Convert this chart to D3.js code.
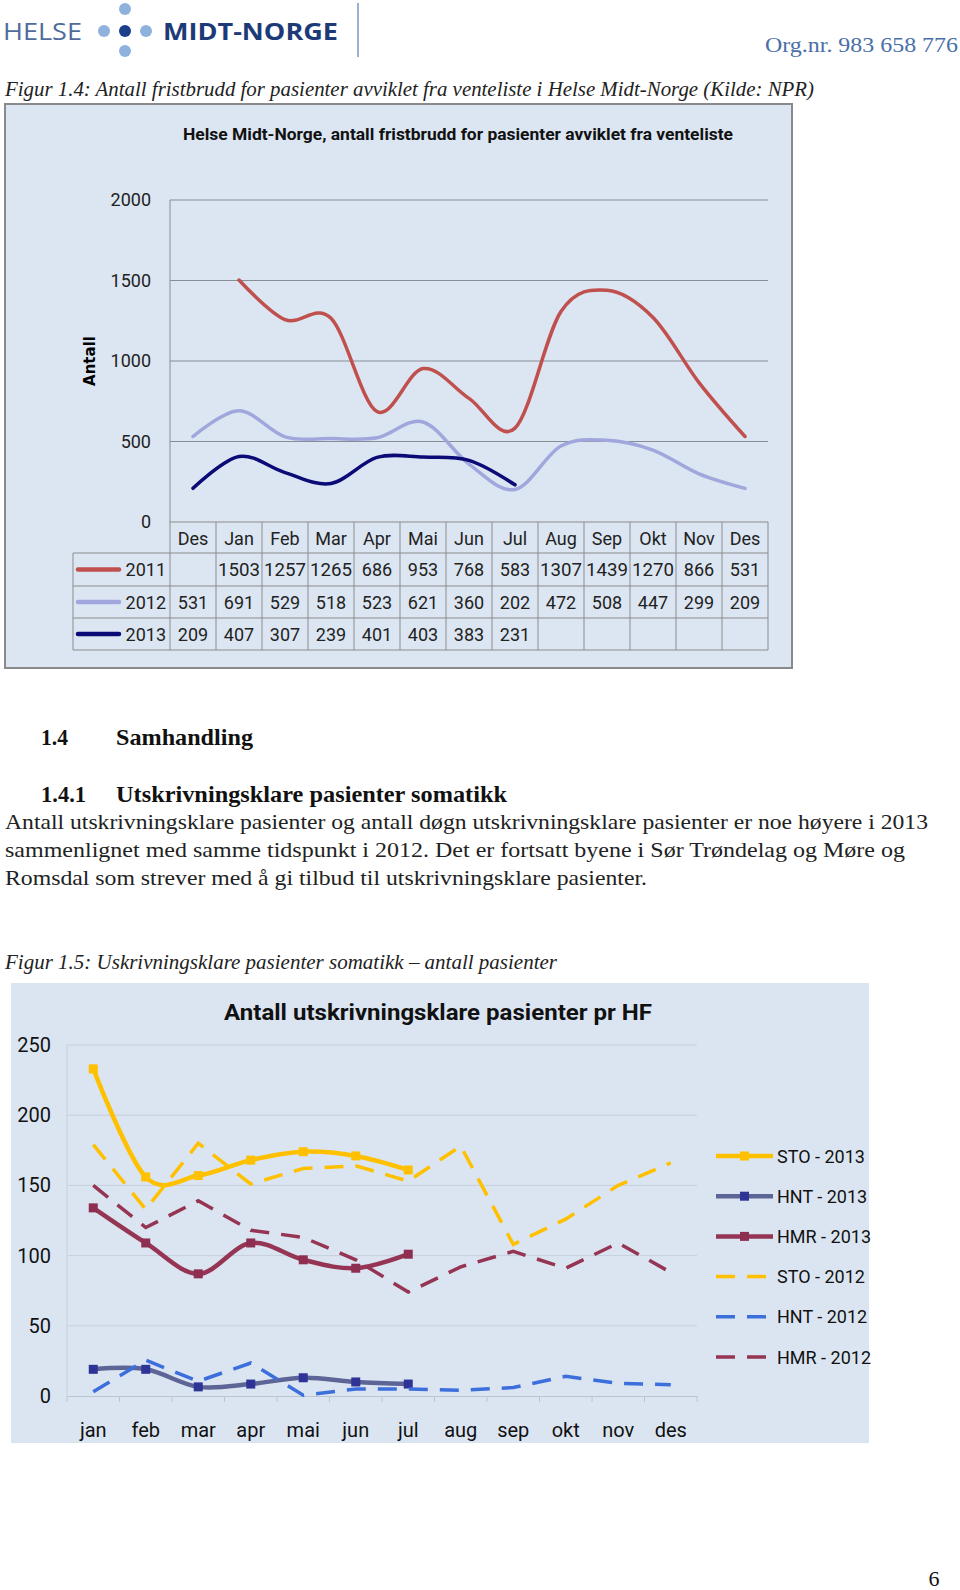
<!DOCTYPE html>
<html>
<head>
<meta charset="utf-8">
<script src="https://cdn.jsdelivr.net/npm/d3@7"></script>
<style>
  body { margin: 0; background: #fff; }
  svg text { font-family: Roboto, "Open Sans", sans-serif; }
  .serif { font-family: "Liberation Serif", "DejaVu Serif", serif !important; }
</style>
</head>
<body>
<div id="page"></div>
<script>
// chart 1: fristbrudd
var months1 = ["Des", "Jan", "Feb", "Mar", "Apr", "Mai", "Jun", "Jul", "Aug", "Sep", "Okt", "Nov", "Des"];
var years1 = ["2011", "2012", "2013"];
var v2011 = [null, 1503, 1257, 1265, 686, 953, 768, 583, 1307, 1439, 1270, 866, 531];
var v2012 = [531, 691, 529, 518, 523, 621, 360, 202, 472, 508, 447, 299, 209];
var v2013 = [209, 407, 307, 239, 401, 403, 383, 231, null, null, null, null, null];
var ticks1 = [0, 500, 1000, 1500, 2000];

// chart 2: utskrivningsklare pasienter
var months2 = ["jan", "feb", "mar", "apr", "mai", "jun", "jul", "aug", "sep", "okt", "nov", "des"];
var sto2013 = [233, 156, 157, 168, 174, 171, 161];
var hnt2013 = [19, 19, 6.5, 8.5, 13, 10, 8.5];
var hmr2013 = [134, 109, 87, 109, 97, 91, 101];
var sto2012 = [179, 133, 180, 151, 162, 164, 153, 178, 108, 126, 150, 166];
var hnt2012 = [3, 25.5, 10.5, 23.5, 0.5, 5, 5, 4, 6, 14, 9, 8];
var hmr2012 = [150, 120, 139, 118, 113, 97, 74, 92, 103, 91, 109, 88];
var ticks2 = [0, 50, 100, 150, 200, 250];

var svg = d3.select("#page").append("svg")
  .attr("width", 960)
  .attr("height", 1590);

svg.append("rect").attr("width", 960).attr("height", 1590).attr("fill", "#fff");

function txt(g, x, y, s, opts) {
  opts = opts || {};
  var t = g.append("text")
    .attr("x", x).attr("y", y)
    .attr("font-size", opts.size || 16)
    .attr("fill", opts.fill || "#111")
    .attr("text-anchor", opts.anchor || "start")
    .text(s);
  if (opts.weight) t.attr("font-weight", opts.weight);
  if (opts.italic) t.attr("font-style", "italic");
  if (opts.cls) t.attr("class", opts.cls);
  if (opts.family) t.style("font-family", opts.family);
  if (opts.len) t.attr("textLength", opts.len).attr("lengthAdjust", "spacingAndGlyphs");
  return t;
}

// ---- header / logo
var logo = svg.append("g");
txt(logo, 3, 40, "HELSE", { size: 24, fill: "#4f6c9c", family: "'Open Sans', sans-serif", len: 79 });
[[104, 31, "#8fb2dd"], [125, 31, "#1b3f8b"], [146, 31, "#8fb2dd"], [125, 9, "#8fb2dd"], [125, 51, "#8fb2dd"]]
  .forEach(function (c) {
    logo.append("circle").attr("cx", c[0]).attr("cy", c[1]).attr("r", 6).attr("fill", c[2]);
  });
txt(logo, 163, 40, "MIDT-NORGE", { size: 24, weight: "bold", fill: "#1d3a78", family: "'Open Sans', sans-serif", len: 175 });
logo.append("line").attr("x1", 358).attr("x2", 358).attr("y1", 3).attr("y2", 57)
  .attr("stroke", "#7b96c4").attr("stroke-width", 1.5);
txt(svg, 958, 52, "Org.nr. 983 658 776", { size: 22, fill: "#4a6fa8", anchor: "end", cls: "serif", len: 193 });

txt(svg, 5, 96, "Figur 1.4: Antall fristbrudd for pasienter avviklet fra venteliste i Helse Midt-Norge (Kilde: NPR)",
  { size: 22, italic: true, fill: "#222", cls: "serif", len: 809 });

// ---- chart 1
var c1 = svg.append("g");
c1.append("rect").attr("x", 5).attr("y", 104).attr("width", 787).attr("height", 564)
  .attr("fill", "#dce6f2").attr("stroke", "#8a8a8a").attr("stroke-width", 2);

var x1 = d3.scaleBand().domain(d3.range(months1.length)).range([170, 768]);
var y1 = d3.scaleLinear().domain([0, 2000]).range([522, 200]);

txt(c1, 458, 140, "Helse Midt-Norge, antall fristbrudd for pasienter avviklet fra venteliste",
  { size: 16, weight: "bold", anchor: "middle", len: 550 });

c1.selectAll("line.grid").data(ticks1.filter(function (d) { return d > 0; }))
  .enter().append("line")
  .attr("class", "grid")
  .attr("x1", 170).attr("x2", 768)
  .attr("y1", function (d) { return y1(d); }).attr("y2", function (d) { return y1(d); })
  .attr("stroke", "#878c95").attr("stroke-width", 1);

c1.selectAll("text.ytick").data(ticks1).enter().append("text")
  .attr("class", "ytick")
  .attr("x", 151).attr("y", function (d) { return y1(d) + 6; })
  .attr("text-anchor", "end").attr("font-size", 18).attr("fill", "#222")
  .text(function (d) { return d; });

c1.append("text")
  .attr("transform", "translate(95,361) rotate(-90)")
  .attr("text-anchor", "middle").attr("font-size", 15).attr("font-weight", "bold")
  .style("font-family", "'DejaVu Sans', sans-serif")
  .text("Antall");

var line1 = d3.line()
  .defined(function (d) { return d != null; })
  .x(function (d, i) { return x1(i) + x1.bandwidth() / 2; })
  .y(function (d) { return y1(d); })
  .curve(d3.curveCatmullRom.alpha(0));

var series1 = [
  { name: years1[0], values: v2011, color: "#c0504d" },
  { name: years1[1], values: v2012, color: "#a1a7dc" },
  { name: years1[2], values: v2013, color: "#0b0b78" }
];

series1.forEach(function (s) {
  c1.append("path").attr("d", line1(s.values))
    .attr("fill", "none").attr("stroke", s.color).attr("stroke-width", 3.5)
    .attr("stroke-linecap", "round");
});

// data table
var rowTop = [522, 553, 586, 618, 650];
var tcol = "#8c8c8c";
var tab = c1.append("g");
tab.append("line").attr("x1", 170).attr("x2", 170).attr("y1", 200).attr("y2", 650).attr("stroke", tcol);
tab.append("line").attr("x1", 170).attr("x2", 768).attr("y1", 522).attr("y2", 522).attr("stroke", tcol);
rowTop.slice(1).forEach(function (y) {
  tab.append("line").attr("x1", 73).attr("x2", 768).attr("y1", y).attr("y2", y).attr("stroke", tcol);
});
tab.append("line").attr("x1", 73).attr("x2", 73).attr("y1", 553).attr("y2", 650).attr("stroke", tcol);
d3.range(months1.length).forEach(function (i) {
  var xr = x1(i) + x1.bandwidth();
  tab.append("line").attr("x1", xr).attr("x2", xr).attr("y1", 522).attr("y2", 650).attr("stroke", tcol);
});

tab.selectAll("text.month").data(months1).enter().append("text")
  .attr("class", "month")
  .attr("x", function (d, i) { return x1(i) + x1.bandwidth() / 2; })
  .attr("y", 545).attr("text-anchor", "middle").attr("font-size", 18).attr("fill", "#222")
  .text(function (d) { return d; });

series1.forEach(function (s, r) {
  var cy = (rowTop[r + 1] + rowTop[r + 2]) / 2;
  tab.append("line").attr("x1", 78).attr("x2", 119).attr("y1", cy).attr("y2", cy)
    .attr("stroke", s.color).attr("stroke-width", 4.5).attr("stroke-linecap", "round");
  txt(tab, 166, cy + 6.5, s.name, { size: 18, anchor: "end", fill: "#222" });
  s.values.forEach(function (v, i) {
    if (v == null) return;
    var t = txt(tab, x1(i) + x1.bandwidth() / 2, cy + 6.5, v, { size: 18, anchor: "middle", fill: "#222" });
    if (v >= 1000) t.attr("textLength", 42).attr("lengthAdjust", "spacingAndGlyphs");
  });
});

// ---- text section
txt(svg, 41, 745, "1.4", { size: 23, weight: "bold", cls: "serif", len: 27 });
txt(svg, 116, 745, "Samhandling", { size: 23, weight: "bold", cls: "serif", len: 137 });
txt(svg, 41, 802, "1.4.1", { size: 23, weight: "bold", cls: "serif", len: 45 });
txt(svg, 116, 802, "Utskrivningsklare pasienter somatikk", { size: 23, weight: "bold", cls: "serif", len: 391 });

var body = [
  ["Antall utskrivningsklare pasienter og antall døgn utskrivningsklare pasienter er noe høyere i 2013", 923],
  ["sammenlignet med samme tidspunkt i 2012. Det er fortsatt byene i Sør Trøndelag og Møre og", 900],
  ["Romsdal som strever med å gi tilbud til utskrivningsklare pasienter.", 642]
];
body.forEach(function (b, i) {
  txt(svg, 5, 829 + i * 28, b[0], { size: 22, fill: "#222", cls: "serif", len: b[1] });
});

txt(svg, 5, 969, "Figur 1.5: Uskrivningsklare pasienter somatikk \u2013 antall pasienter",
  { size: 22, italic: true, fill: "#222", cls: "serif", len: 552 });

// ---- chart 2
var c2 = svg.append("g");
c2.append("rect").attr("x", 11).attr("y", 983).attr("width", 858).attr("height", 460).attr("fill", "#dbe5f1");

var x2 = d3.scaleBand().domain(months2).range([67, 697]);
var y2 = d3.scaleLinear().domain([0, 250]).range([1396, 1045]);

txt(c2, 438, 1020, "Antall utskrivningsklare pasienter pr HF", { size: 22, weight: "bold", anchor: "middle", len: 428 });

c2.selectAll("line.grid").data(ticks2.filter(function (d) { return d > 0; })).enter().append("line")
  .attr("class", "grid")
  .attr("x1", 67).attr("x2", 697)
  .attr("y1", function (d) { return y2(d); }).attr("y2", function (d) { return y2(d); })
  .attr("stroke", "#c6cfdc").attr("stroke-width", 1);

var xAxis2 = d3.axisBottom(x2).tickSize(0).tickPadding(27);
var gx2 = c2.append("g").attr("transform", "translate(0,1396)").call(xAxis2);
gx2.select(".domain").attr("stroke", "#bcc4d0");
gx2.selectAll("text").attr("font-size", 20).attr("fill", "#111").style("font-family", "Roboto, sans-serif");
d3.range(months2.length + 1).forEach(function (i) {
  var xt = 67 + i * x2.step();
  gx2.append("line").attr("x1", xt).attr("x2", xt).attr("y1", 0).attr("y2", 6).attr("stroke", "#bcc4d0");
});
c2.append("line").attr("x1", 67).attr("x2", 67).attr("y1", 1045).attr("y2", 1396).attr("stroke", "#c6cfdc");

c2.selectAll("text.ytick").data(ticks2).enter().append("text")
  .attr("class", "ytick")
  .attr("x", 51).attr("y", function (d) { return y2(d) + 7; })
  .attr("text-anchor", "end").attr("font-size", 20).attr("fill", "#111")
  .text(function (d) { return d; });

var series2 = [
  { name: "STO - 2013", values: sto2013, color: "#ffc000", marker: "#ffc000", dash: null },
  { name: "HNT - 2013", values: hnt2013, color: "#5d6596", marker: "#2f3396", dash: null },
  { name: "HMR - 2013", values: hmr2013, color: "#953553", marker: "#8e2e50", dash: null },
  { name: "STO - 2012", values: sto2012, color: "#ffc000", dash: "19,12" },
  { name: "HNT - 2012", values: hnt2012, color: "#3d6fdc", dash: "19,12" },
  { name: "HMR - 2012", values: hmr2012, color: "#953553", dash: "19,12" }
];

function cx2(i) { return x2(months2[i]) + x2.bandwidth() / 2; }

var smooth2 = d3.line().x(function (d, i) { return cx2(i); }).y(function (d) { return y2(d); })
  .curve(d3.curveCatmullRom.alpha(0));
var straight2 = d3.line().x(function (d, i) { return cx2(i); }).y(function (d) { return y2(d); });

series2.forEach(function (s) {
  var p = c2.append("path")
    .attr("d", s.dash ? straight2(s.values) : smooth2(s.values))
    .attr("fill", "none").attr("stroke", s.color)
    .attr("stroke-width", s.dash ? 3.5 : 4.5);
  if (s.dash) p.attr("stroke-dasharray", s.dash);
  else {
    c2.selectAll(null).data(s.values).enter().append("rect")
      .attr("x", function (d, i) { return cx2(i) - 4.5; })
      .attr("y", function (d) { return y2(d) - 4.5; })
      .attr("width", 9).attr("height", 9).attr("fill", s.marker);
  }
});

// legend
var leg = c2.append("g");
series2.forEach(function (s, i) {
  var ly = 1156 + i * 40.2;
  var l = leg.append("line").attr("x1", 716).attr("x2", s.dash ? 767 : 773)
    .attr("y1", ly).attr("y2", ly).attr("stroke", s.color).attr("stroke-width", s.dash ? 3.5 : 4.5);
  if (s.dash) l.attr("stroke-dasharray", s.dash);
  else leg.append("rect").attr("x", 740).attr("y", ly - 4.5).attr("width", 9).attr("height", 9).attr("fill", s.marker);
  txt(leg, 777, ly + 6.5, s.name, { size: 18, fill: "#111" });
});

// page number
txt(svg, 934, 1586, "6", { size: 22, fill: "#111", anchor: "middle", cls: "serif" });
</script>
</body>
</html>
